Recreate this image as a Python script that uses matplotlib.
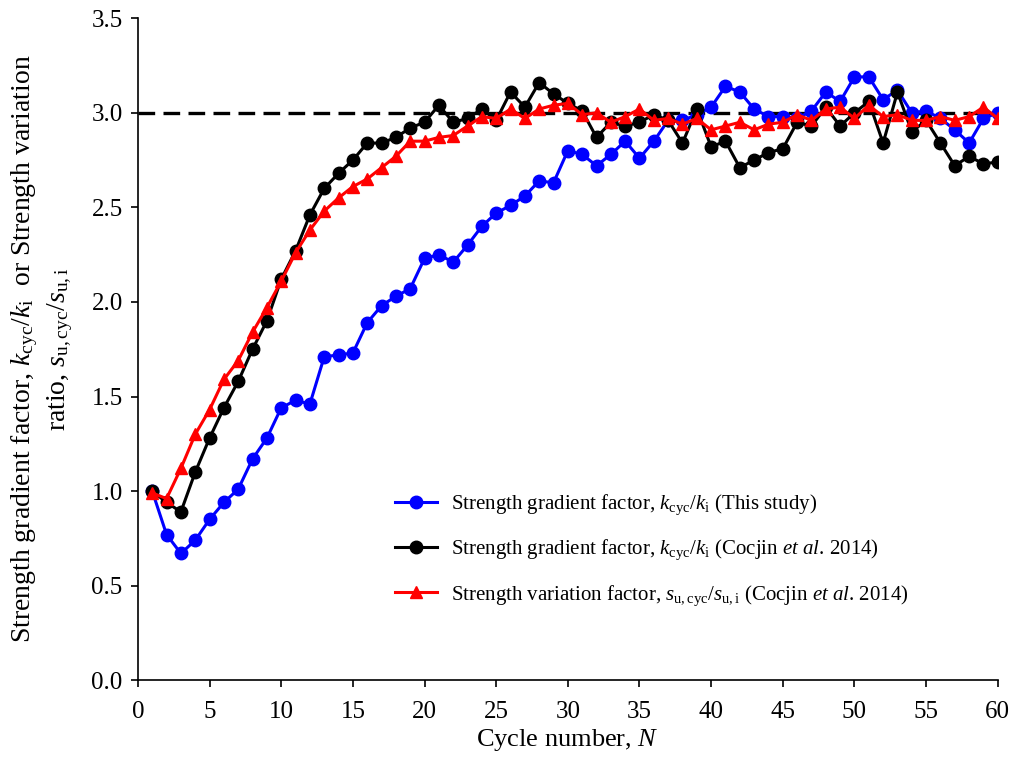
import numpy as np
from matplotlib import pyplot as plt

# cycle numbers and the three strength ratios
cycles = np.arange(1, 61)

k_this_study = [1.00, 0.77, 0.67, 0.74, 0.85, 0.94, 1.01, 1.17, 1.28, 1.44,
                1.48, 1.46, 1.71, 1.72, 1.73, 1.89, 1.98, 2.03, 2.07, 2.23,
                2.25, 2.21, 2.30, 2.40, 2.47, 2.51, 2.56, 2.64, 2.63, 2.80,
                2.78, 2.72, 2.78, 2.85, 2.76, 2.85, 2.96, 2.96, 2.99, 3.03,
                3.14, 3.11, 3.02, 2.98, 2.98, 2.97, 3.01, 3.11, 3.06, 3.19,
                3.19, 3.07, 3.12, 3.00, 3.01, 2.97, 2.91, 2.84, 2.97, 3.00]

k_cocjin = [1.00, 0.94, 0.89, 1.10, 1.28, 1.44, 1.58, 1.75, 1.90, 2.12,
            2.27, 2.46, 2.60, 2.68, 2.75, 2.84, 2.84, 2.87, 2.92, 2.95,
            3.04, 2.95, 2.97, 3.02, 2.96, 3.11, 3.03, 3.16, 3.10, 3.05,
            3.01, 2.87, 2.95, 2.93, 2.95, 2.99, 2.96, 2.84, 3.02, 2.82,
            2.85, 2.71, 2.75, 2.79, 2.81, 2.95, 2.93, 3.03, 2.93, 3.00,
            3.06, 2.84, 3.11, 2.90, 2.96, 2.84, 2.72, 2.77, 2.73, 2.74]

su_cocjin = [0.99, 0.96, 1.12, 1.30, 1.43, 1.59, 1.69, 1.84, 1.97, 2.11,
             2.26, 2.38, 2.48, 2.55, 2.61, 2.65, 2.71, 2.77, 2.85, 2.85,
             2.87, 2.88, 2.93, 2.98, 2.97, 3.02, 2.97, 3.02, 3.04, 3.05,
             2.99, 3.00, 2.95, 2.98, 3.02, 2.96, 2.97, 2.94, 2.97, 2.91,
             2.93, 2.95, 2.91, 2.94, 2.95, 2.99, 2.96, 3.02, 3.03, 2.97,
             3.04, 2.98, 2.99, 2.96, 2.96, 2.98, 2.96, 2.98, 3.03, 2.97]

ref_level = 3.0

plt.rcParams['font.family'] = ['Liberation Serif']
plt.rcParams['mathtext.fontset'] = 'custom'
plt.rcParams['mathtext.rm'] = 'Liberation Serif'
plt.rcParams['mathtext.it'] = 'Liberation Serif:italic'
plt.rcParams['mathtext.bf'] = 'Liberation Serif:bold'
plt.rcParams['xtick.labelsize'] = 18
plt.rcParams['ytick.labelsize'] = 18
plt.rcParams['axes.labelsize'] = 19

fig = plt.figure(figsize=(10.14, 7.6), dpi=100)
ax = fig.add_axes([0.136, 0.105, 0.848, 0.871])

ax.spines['right'].set_visible(False)
ax.spines['top'].set_visible(False)
for k in ['left', 'bottom']:
    ax.spines[k].set_linewidth(1.2)

ax.plot([0, 60], [ref_level, ref_level], color='black', linestyle=(0, (5, 2.5)),
        linewidth=2.4, zorder=1)

ax.plot(cycles, k_this_study, '-o', color='#0000ff', markersize=9, linewidth=2.2,
        label=r'Strength gradient factor, $k_{\rm cyc}/k_{\rm i}$ (This study)', zorder=2)
ax.plot(cycles, k_cocjin, '-o', color='black', markersize=9, linewidth=2.2,
        label=r'Strength gradient factor, $k_{\rm cyc}/k_{\rm i}$ (Cocjin $et\ al$. 2014)', zorder=3)
ax.plot(cycles, su_cocjin, '-^', color='#ff0000', markersize=9, linewidth=2.2,
        label=r'Strength variation factor, $s_{\rm u,cyc}/s_{\rm u,i}$ (Cocjin $et\ al$. 2014)', zorder=4)

ax.set_xlim(0, 60)
ax.set_ylim(0, 3.5)
ax.set_xticks(np.arange(0, 61, 5))
ax.set_yticks(np.arange(0, 3.51, 0.5))
ax.yaxis.set_major_formatter(plt.FormatStrFormatter('%.1f'))
ax.tick_params(direction='out', length=5, width=1.2, pad=6)
ax.tick_params(axis='x', pad=10)

ax.set_xlabel(r'Cycle number, $N$', labelpad=3)
ax.set_ylabel('Strength gradient factor, $k_{\\rm cyc}/k_{\\rm i}$  or Strength variation\n'
              'ratio, $s_{\\rm u,cyc}/s_{\\rm u,i}$', labelpad=12, linespacing=1.25,
              fontsize=20)

ax.legend(loc='upper left', bbox_to_anchor=(0.277, 0.312), frameon=False, fontsize=15,
          handlelength=2.0, labelspacing=1.0, handletextpad=0.7)

plt.savefig('out.png', dpi=100)
